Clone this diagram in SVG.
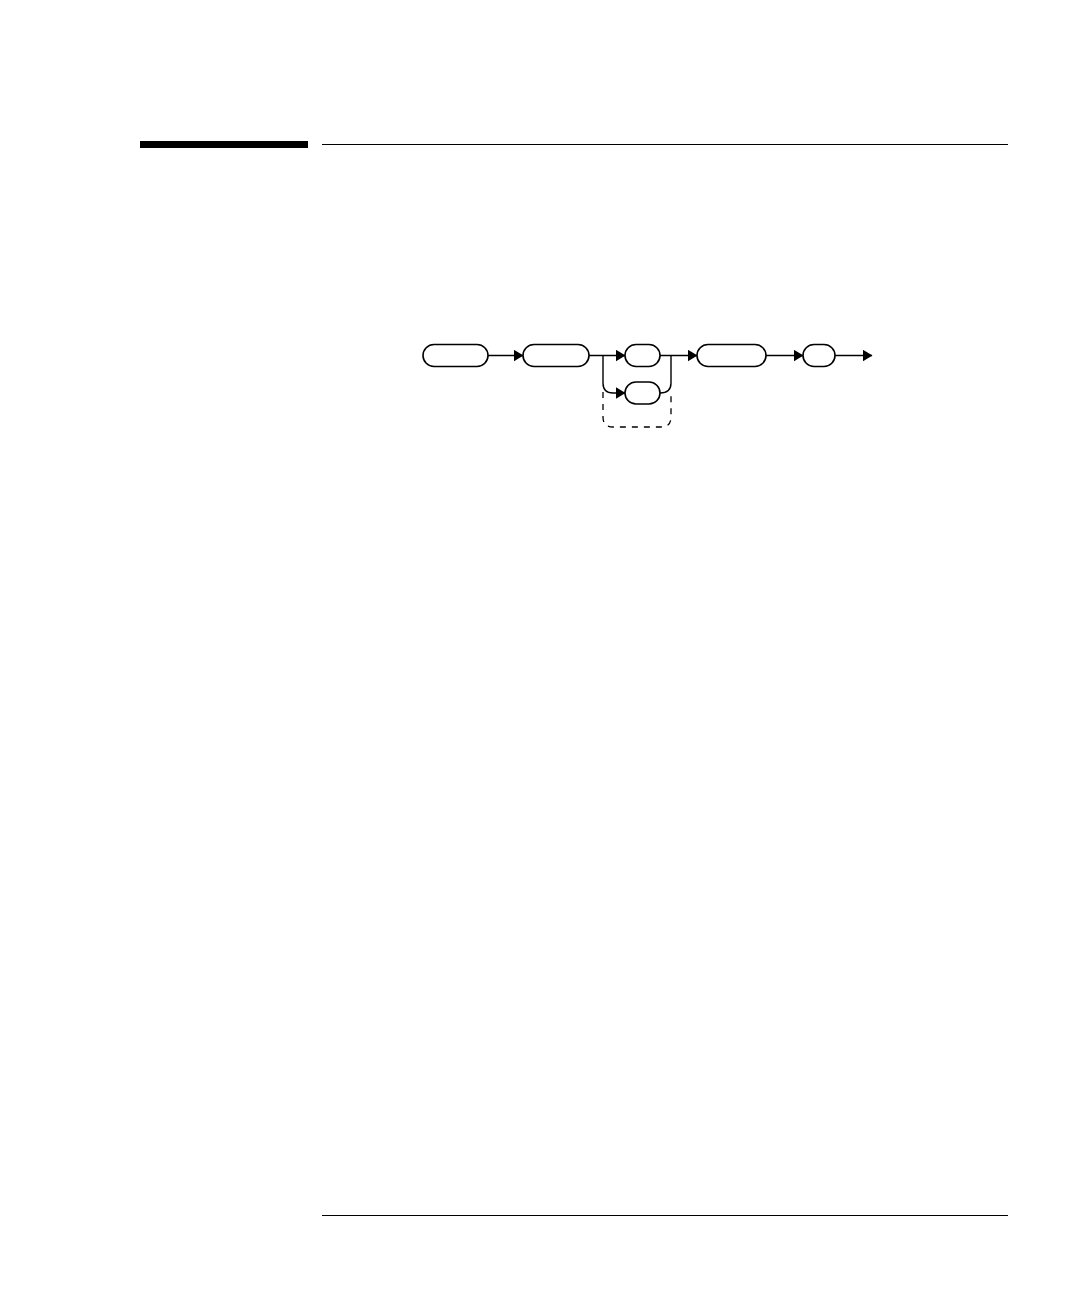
<svg xmlns="http://www.w3.org/2000/svg" width="1080" height="1296" viewBox="0 0 1080 1296">
<style>
.node{fill:#fff;stroke:#000;stroke-width:1.6}
.c{fill:none;stroke:#000;stroke-width:1.4}
.d{fill:none;stroke:#000;stroke-width:1.3;stroke-dasharray:6,6}
</style>
<defs>
<marker id="ah" markerWidth="10" markerHeight="12" refX="9.5" refY="6" orient="auto" markerUnits="userSpaceOnUse">
<path d="M0,0 L10,6 L0,12 Z" fill="#000"/>
</marker>
</defs>
<rect width="1080" height="1296" fill="#fff"/>
<rect x="140" y="141" width="168" height="7" fill="#000"/>
<line x1="322" y1="144.5" x2="1008" y2="144.5" stroke="#000" stroke-width="1"/>
<line x1="322" y1="1215.5" x2="1008" y2="1215.5" stroke="#000" stroke-width="1"/>
<g id="connectors">
<path class="c" d="M488,355.5 H523" marker-end="url(#ah)"/>
<path class="c" d="M589,355.5 H625" marker-end="url(#ah)"/>
<path class="c" d="M603,355.5 V383 Q603,393 613,393 H625" marker-end="url(#ah)"/>
<path class="c" d="M660,393 Q671,393 671,383 V355.5"/>
<path class="c" d="M660,355.5 H697" marker-end="url(#ah)"/>
<path class="c" d="M766,355.5 H803" marker-end="url(#ah)"/>
<path class="c" d="M835,355.5 H872" marker-end="url(#ah)"/>
<path class="d" d="M603,392 V417 Q603,427 613,427 H661 Q671,427 671,417 V392"/>
</g>
<g id="n1"><rect class="node" x="423" y="344.5" width="65" height="22" rx="11"/></g>
<g id="n2"><rect class="node" x="523" y="344.5" width="66" height="22" rx="11"/></g>
<g id="n3"><rect class="node" x="625" y="344.5" width="35" height="22" rx="11"/></g>
<g id="n4"><rect class="node" x="625" y="382" width="35" height="22" rx="11"/></g>
<g id="n5"><rect class="node" x="697" y="344.5" width="69" height="22" rx="11"/></g>
<g id="n6"><rect class="node" x="803" y="344.5" width="32" height="22" rx="11"/></g>
</svg>
